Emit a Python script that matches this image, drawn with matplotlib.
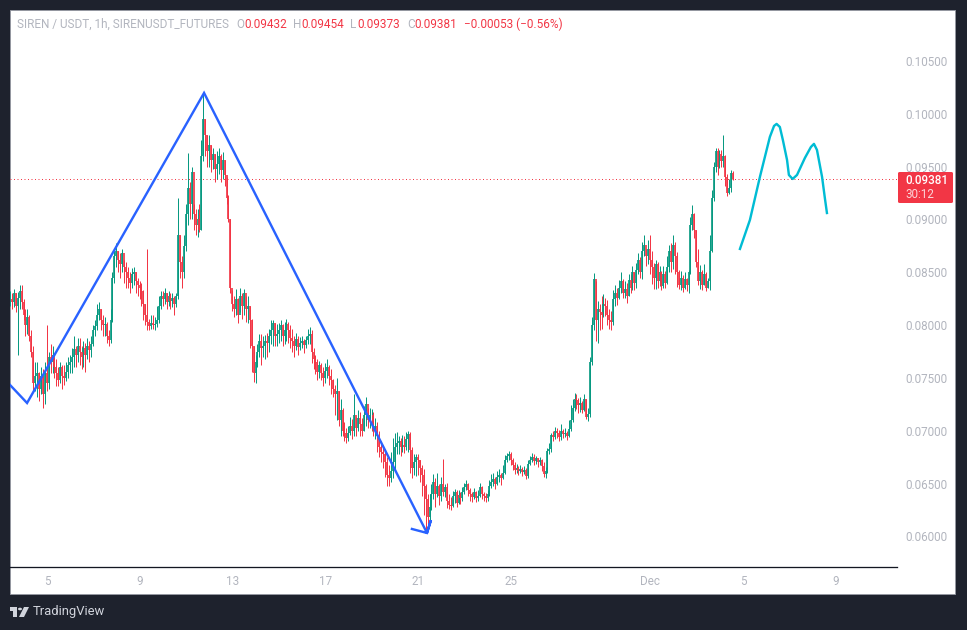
import matplotlib
matplotlib.use('Agg')
import matplotlib.pyplot as plt
import matplotlib.patches as patches
import numpy as np

plt.rcParams['font.family'] = ['Roboto', 'DejaVu Sans']

# 2h candles, first row runs up to day 5, then 12 candles per day
first_day = 3.405
bar_days = 2 / 24.0

close = [
    8250,8220,8300,8180,8260,8320,8220,8100,8000,8080,7900,7750,7450,7520,7550,7400,7520,7350,7550,
    7450,7700,7650,7720,7600,7550,7480,7600,7520,7500,7560,7620,
    7650,7700,7770,7720,7800,7750,7700,7780,7720,7800,7760,7820,
    7950,7990,8100,8150,8050,8000,8010,7900,7860,8050,8450,8650,
    8700,8620,8580,8680,8550,8500,8450,8400,8480,8500,8420,8380,
    8350,8320,8200,8100,8030,7990,8020,8000,8010,8050,8180,8280,
    8250,8300,8220,8280,8230,8260,8200,8280,8850,8600,8500,8750,
    9050,9300,9150,9450,9050,8950,9000,8900,9600,9950,9800,9650,
    9700,9560,9620,9480,9520,9600,9470,9560,9420,9200,9000,8350,
    8200,8150,8250,8100,8280,8180,8300,8150,8180,8050,7800,7550,
    7650,7750,7850,7780,7800,7850,7830,7900,7950,8020,7900,7920,
    7950,8000,7900,7950,8010,7950,7880,7850,7800,7870,7790,7830,
    7850,7810,7860,7900,7920,7750,7680,7650,7560,7620,7550,7500,
    7570,7600,7520,7480,7400,7350,7380,7100,7200,7000,6980,6930,
    6980,7050,7000,7150,7030,7120,7060,7000,7150,7250,7100,7150,
    7150,7000,7050,6950,6850,6800,6780,6700,6580,6550,6620,6700,
    6850,6880,6900,6850,6870,6850,6920,6970,6820,6650,6700,6750,
    6720,6650,6580,6480,6350,6180,6280,6400,6520,6400,6480,6380,
    6500,6420,6470,6340,6300,6290,6380,6420,6320,6390,6360,6420,
    6470,6500,6440,6400,6370,6420,6360,6380,6470,6400,6380,6360,
    6400,6480,6520,6540,6500,6560,6580,6550,6600,6720,6760,6780,
    6720,6680,6630,6650,6620,6640,6610,6630,6570,6690,6720,6750,
    6710,6740,6700,6720,6670,6590,6620,6810,6830,6960,6940,7000,
    6980,6940,7000,6970,6980,6950,7020,7100,7220,7300,7290,7240,
    7260,7200,7300,7130,7160,7650,8000,8440,8050,8150,8120,8100,
    8200,8180,8100,8050,8030,8250,8300,8260,8350,8420,8300,8340,
    8280,8430,8350,8500,8400,8520,8620,8500,8700,8760,8650,8720,
    8620,8550,8450,8580,8420,8500,8370,8480,8400,8550,8700,8600,
    8760,8650,8500,8380,8450,8350,8440,8380,8500,8950,9050,8900,
    8600,8420,8500,8380,8480,8350,8420,8700,9200,9500,9650,9500,
    9620,9550,9600,9400,9250,9300,9440,9381,
]
high = [
    8320,8300,8340,8300,8310,8380,8380,8250,8150,8150,8100,7950,7800,7650,7650,7560,7600,7580,7650,
    8000,7750,7820,7800,7700,7680,7600,7650,7620,7620,7650,7700,
    7720,7780,7900,7800,7880,7880,7800,7850,7830,7880,7850,7900,
    8000,8050,8200,8220,8150,8100,8080,8030,7950,8150,8500,8720,
    8780,8700,8680,8720,8620,8600,8550,8500,8540,8550,8500,8450,
    8420,8400,8330,8200,8720,8060,8100,8100,8080,8180,8280,8320,
    8320,8350,8300,8320,8300,8300,8280,8300,9200,8850,8650,8850,
    9150,9630,9350,9500,9150,9100,9100,9150,9750,10197,9950,9800,
    9800,9700,9680,9620,9650,9680,9620,9640,9560,9400,9230,9000,
    8330,8280,8340,8260,8350,8300,8340,8280,8280,8180,8060,7800,
    7720,7820,7920,7920,7900,7910,7930,7960,8050,8050,8020,8010,
    8020,8050,8010,8030,8060,8030,8000,7960,7900,7930,7900,7890,
    7900,7870,7900,7960,7980,7950,7780,7720,7680,7660,7640,7600,
    7640,7680,7620,7580,7490,7430,7500,7380,7300,7220,7080,7030,
    7050,7130,7110,7350,7130,7200,7180,7120,7230,7320,7220,7220,
    7210,7180,7120,7080,7000,6900,6870,6830,6750,6680,6800,6930,
    6980,6990,6950,6930,6960,6950,6990,7000,6990,6850,6780,6780,
    6780,6720,6680,6640,6500,6400,6400,6500,6590,6550,6600,6500,
    6560,6730,6500,6510,6400,6370,6430,6450,6440,6440,6420,6470,
    6510,6530,6510,6460,6420,6460,6430,6440,6510,6480,6420,6410,
    6440,6530,6590,6600,6560,6620,6640,6600,6680,6770,6790,6810,
    6800,6740,6700,6690,6670,6680,6660,6670,6650,6720,6760,6790,
    6780,6760,6740,6750,6730,6700,6660,6840,6880,6980,7000,7040,
    7030,7010,7060,7020,7030,7000,7100,7240,7300,7360,7350,7310,
    7320,7280,7350,7300,7220,7700,8080,8490,8420,8230,8200,8280,
    8290,8260,8240,8150,8130,8330,8380,8350,8430,8500,8440,8420,
    8400,8480,8480,8560,8500,8590,8680,8640,8790,8850,8720,8810,
    8850,8700,8590,8620,8600,8560,8510,8560,8510,8650,8760,8780,
    8850,8790,8690,8520,8510,8470,8500,8450,8520,9020,9140,9060,
    8900,8720,8570,8520,8580,8500,8450,8850,9280,9540,9680,9680,
    9660,9660,9800,9610,9430,9380,9470,9454,
]
low = [
    8180,8150,8170,8120,7720,8150,8150,8050,7900,7920,7850,7700,7380,7380,7320,7280,7350,7220,7250,
    7380,7400,7550,7550,7500,7420,7420,7450,7400,7430,7470,7500,
    7550,7550,7600,7600,7650,7620,7580,7600,7560,7680,7650,7700,
    7800,7900,7950,8050,7950,7900,7900,7830,7800,7830,8030,8400,
    8550,8500,8450,8500,8400,8350,8350,8300,8350,8380,8300,8280,
    8250,8180,8050,8000,7950,7950,7960,7960,7950,7980,8020,8150,
    8180,8200,8150,8180,8150,8170,8100,8170,8250,8450,8350,8450,
    8700,8950,9000,9000,8900,8850,8830,8880,8900,9550,9600,9500,
    9500,9450,9480,9350,9380,9430,9350,9380,9320,9150,8980,8300,
    8130,8080,8100,8020,8120,8060,8100,8030,8020,7780,7560,7460,
    7450,7600,7700,7620,7700,7680,7700,7750,7820,7800,7800,7800,
    7830,7850,7800,7820,7850,7830,7780,7750,7700,7760,7720,7760,
    7780,7740,7780,7820,7820,7640,7580,7540,7480,7500,7480,7420,
    7450,7500,7430,7350,7320,7150,7100,7050,6950,6950,6900,6880,
    6900,6960,6920,6950,6950,7000,6950,6950,7000,7050,7030,7030,
    7000,6950,6920,6800,6750,6700,6650,6560,6480,6480,6520,6550,
    6620,6780,6780,6760,6800,6790,6820,6800,6600,6550,6580,6570,
    6580,6520,6380,6200,6030,6050,6150,6250,6350,6280,6370,6300,
    6340,6380,6370,6270,6260,6250,6280,6320,6280,6310,6310,6340,
    6400,6440,6380,6340,6330,6350,6330,6340,6370,6350,6340,6330,
    6340,6380,6460,6480,6450,6490,6520,6490,6540,6590,6700,6720,
    6680,6630,6590,6600,6580,6600,6570,6590,6540,6550,6680,6700,
    6680,6690,6660,6680,6620,6560,6550,6600,6780,6800,6900,6920,
    6930,6900,6910,6930,6940,6910,6940,7000,7080,7190,7210,7170,
    7180,7170,7190,7110,7090,7130,7620,7950,7850,7830,7950,7960,
    8080,8090,8000,7960,7950,8000,8180,8190,8250,8300,8260,8260,
    8210,8280,8300,8330,8330,8350,8480,8450,8440,8650,8560,8580,
    8480,8390,8340,8340,8350,8370,8330,8350,8350,8390,8500,8500,
    8530,8480,8360,8340,8330,8310,8340,8320,8300,8480,8900,8820,
    8550,8380,8340,8330,8380,8320,8350,8330,8690,9170,9450,9420,
    9490,9500,9500,9320,9220,9240,9260,9373,
]
first_open = 8240

# drawings on top of the candles (day number, price)
wave_days = [3.405, 4.14, 11.77, 21.38, 21.55, 21.38, 20.73]
wave_prices = [0.07434, 0.07263, 0.10197, 0.06033, 0.06155, 0.06033, 0.06071]
path_days = [34.87, 35.30, 35.73, 36.16, 36.34, 36.45, 36.59, 36.72, 36.90, 36.98,
             37.14, 37.33, 37.67, 37.93, 38.06, 38.19, 38.41, 38.53, 38.62]
path_prices = [0.08721, 0.08995, 0.09402, 0.09781, 0.09885, 0.09904, 0.09875, 0.09752,
               0.09563, 0.09421, 0.09383, 0.09421, 0.09582, 0.09686, 0.09715, 0.09658,
               0.09402, 0.09203, 0.09061]

price_ticks = [0.06, 0.065, 0.07, 0.075, 0.08, 0.085, 0.09, 0.095, 0.10, 0.105]
day_ticks = [5, 9, 13, 17, 21, 25, 31, 35, 39]
day_labels = ['5', '9', '13', '17', '21', '25', 'Dec', '5', '9']
last_price = 0.09381

UP = '#089981'
DOWN = '#f23645'
GREY = '#b2b5be'
W, H = 967, 630


def fx(x):
    return x / W


def fy(y):
    return 1 - y / H


def px(n):
    return n * 72 / 100.0


close = np.array(close) / 1e5
high = np.array(high) / 1e5
low = np.array(low) / 1e5
opens = np.concatenate([[first_open / 1e5], close[:-1]])
days = first_day + np.arange(len(close)) * bar_days
up = close >= opens

fig = plt.figure(figsize=(W / 100, H / 100), dpi=100, facecolor='#1e222d')
panel = patches.Rectangle((fx(10), fy(594)), 945 / W, 584 / H, transform=fig.transFigure,
                          facecolor='white', edgecolor='#9598a1', linewidth=0.7, zorder=-1)
fig.add_artist(panel)

ax = fig.add_axes([fx(10), fy(567), 887 / W, 557 / H])
ax.patch.set_alpha(0)
ax.set_xlim(3.405, 41.64)
ax.set_ylim(0.05711, 0.10982)

# candles
ax.vlines(days[up], low[up], high[up], color=UP, linewidth=px(1), zorder=2)
ax.vlines(days[~up], low[~up], high[~up], color=DOWN, linewidth=px(1), zorder=2)
ax.vlines(days[up], opens[up], close[up], color=UP, linewidth=px(1.7), zorder=3)
ax.vlines(days[~up], close[~up], opens[~up], color=DOWN, linewidth=px(1.7), zorder=3)

ax.axhline(last_price, color=DOWN, linewidth=px(1), linestyle=(0, (1, 2.5)), zorder=1)
ax.plot(wave_days, wave_prices, color='#2962ff', linewidth=px(2.4), zorder=4,
        solid_joinstyle='miter')
ax.plot(path_days, path_prices, color='#00bcd4', linewidth=px(2.4), zorder=4)

for side in ['top', 'left', 'right']:
    ax.spines[side].set_visible(False)
ax.spines['bottom'].set_color('#131722')
ax.spines['bottom'].set_linewidth(px(1.3))

ax.set_xticks(day_ticks)
ax.set_xticklabels(day_labels)
ax.yaxis.tick_right()
ax.set_yticks(price_ticks)
ax.set_yticklabels(['%.5f' % p for p in price_ticks])
ax.tick_params(axis='x', length=0, pad=6, labelsize=8.4, colors=GREY)
ax.tick_params(axis='y', length=0, pad=6, labelsize=8.4, colors=GREY)

# header line
header = [
    (17, 'SIREN / USDT, 1h, SIRENUSDT_FUTURES', GREY),
    (236, 'O', GREY), (244, '0.09432', DOWN),
    (293, 'H', GREY), (301, '0.09454', DOWN),
    (350, 'L', GREY), (357, '0.09373', DOWN),
    (407, 'C', GREY), (414, '0.09381', DOWN),
    (464, '\u22120.00053 (\u22120.56%)', DOWN),
]
for x, s, c in header:
    fig.text(fx(x), fy(24), s, color=c, fontsize=8.45, va='center', ha='left')

# last price tag
tag = patches.FancyBboxPatch((fx(898), fy(203)), 55 / W, 31 / H, transform=fig.transFigure,
                             boxstyle='round,pad=0,rounding_size=0.002', facecolor=DOWN,
                             edgecolor='none')
fig.add_artist(tag)
fig.text(fx(905), fy(181), '0.09381', color='white', fontsize=8.4, va='center', ha='left',
         fontweight='medium')
fig.text(fx(905), fy(195), '30:12', color='#fbd5d9', fontsize=8.4, va='center', ha='left')

# TradingView mark
logo = '#d1d4dc'
fig.add_artist(patches.Polygon([(fx(10), fy(607)), (fx(17), fy(607)), (fx(17), fy(617)),
                                (fx(13), fy(617)), (fx(13), fy(611)), (fx(10), fy(611))],
                               closed=True, transform=fig.transFigure, facecolor=logo,
                               edgecolor='none'))
fig.add_artist(patches.Circle((fx(20), fy(609)), 2 / W, transform=fig.transFigure,
                              facecolor=logo, edgecolor='none'))
fig.add_artist(patches.Polygon([(fx(24), fy(607)), (fx(29), fy(607)), (fx(24), fy(617)),
                                (fx(19), fy(617))],
                               closed=True, transform=fig.transFigure, facecolor=logo,
                               edgecolor='none'))
fig.text(fx(33), fy(612), 'TradingView', color=logo, fontsize=9.4, va='center', ha='left')

fig.savefig('out.png', dpi=100, facecolor=fig.get_facecolor())
